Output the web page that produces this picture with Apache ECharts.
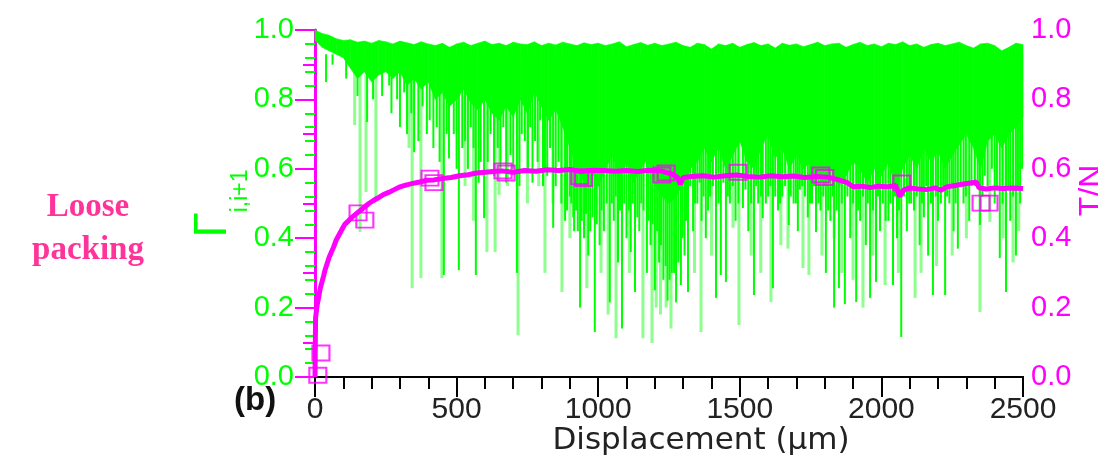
<!DOCTYPE html>
<html>
<head>
<meta charset="utf-8">
<script src="https://cdn.jsdelivr.net/npm/echarts@6/dist/echarts.min.js"></script>
<style>
html,body{margin:0;padding:0;background:#fff;}
#chart{width:1098px;height:462px;}
</style>
</head>
<body>
<div id="chart"></div>
<script>
// ---------- DATA ----------
// Gamma_{i,i+1}: dense band sampled every 25 µm (0..2500)
const bandStep = 25;
const gammaHigh = [1.0, 0.99, 0.985, 0.975, 0.97, 0.972, 0.965, 0.968, 0.962, 0.97, 0.966, 0.96, 0.968, 0.963, 0.958, 0.966, 0.96, 0.955, 0.962, 0.95,
  0.96, 0.965, 0.955, 0.962, 0.968, 0.958, 0.962, 0.955, 0.965, 0.96,
  0.958, 0.966, 0.955, 0.962, 0.957, 0.965, 0.96, 0.955, 0.963, 0.958,
  0.962, 0.955, 0.96, 0.966, 0.952, 0.958, 0.964, 0.956, 0.962, 0.955,
  0.96, 0.965, 0.955, 0.95, 0.962, 0.958, 0.945, 0.96, 0.955, 0.962,
  0.95, 0.958, 0.964, 0.955, 0.96, 0.948, 0.962, 0.956, 0.96, 0.952,
  0.958, 0.965, 0.955, 0.96, 0.962, 0.95, 0.958, 0.965, 0.955, 0.96,
  0.952, 0.962, 0.958, 0.966, 0.955, 0.96, 0.95, 0.958, 0.962, 0.955,
  0.96, 0.965, 0.955, 0.948, 0.96, 0.962, 0.955, 0.94, 0.95, 0.962,
  0.958];
const gammaLow = [0.97, 0.95, 0.94, 0.93, 0.92, 0.89, 0.86, 0.88, 0.85, 0.87, 0.88, 0.86, 0.88, 0.84, 0.86, 0.83, 0.85, 0.8, 0.82, 0.78,
  0.8, 0.83, 0.79, 0.77, 0.8, 0.76, 0.74, 0.78, 0.75, 0.8,
  0.76, 0.82, 0.78, 0.74, 0.77, 0.72, 0.66, 0.6, 0.56, 0.6,
  0.55, 0.6, 0.64, 0.58, 0.62, 0.56, 0.6, 0.63, 0.56, 0.52,
  0.5, 0.52, 0.56, 0.6, 0.62, 0.66, 0.62, 0.66, 0.6, 0.64,
  0.68, 0.62, 0.6, 0.66, 0.7, 0.63, 0.66, 0.6, 0.64, 0.6,
  0.62, 0.58, 0.55, 0.6, 0.55, 0.58, 0.62, 0.6, 0.56, 0.6,
  0.58, 0.62, 0.55, 0.6, 0.64, 0.6, 0.66, 0.62, 0.65, 0.6,
  0.64, 0.67, 0.7, 0.66, 0.6, 0.68, 0.7, 0.66, 0.7, 0.72,
  0.75];
const spikeTop = 0.93;
// dark drops [displacement µm, minimum Gamma]
const darkSpikes = [[39,0.85],[62,0.9],[110,0.86],[150,0.81],[184,0.735],[205,0.8],[237,0.81],[262,0.84],[270,0.76],[290,0.8],[300,0.72],[315,0.82],[325,0.7],[340,0.76],[350,0.648],[365,0.68],[380,0.78],[395,0.7],[405,0.74],[418,0.66],[430,0.72],[440,0.62],[455,0.294],[465,0.7],[473,0.63],[490,0.7],[500,0.6],[508,0.308],[520,0.66],[530,0.68],[540,0.6],[550,0.72],[560,0.66],[568,0.294],[578,0.56],[585,0.62],[597,0.458],[610,0.62],[620,0.7],[632,0.58],[645,0.66],[655,0.6],[665,0.72],[675,0.56],[690,0.64],[700,0.6],[713,0.30],[722,0.55],[730,0.7],[741,0.68],[752,0.6],[760,0.72],[768,0.56],[777,0.68],[786,0.62],[795,0.74],[805,0.55],[812,0.6],[820,0.58],[830,0.66],[841,0.43],[850,0.55],[860,0.62],[870,0.5],[883,0.45],[890,0.48],[900,0.52],[905,0.5],[912,0.46],[915,0.42],[922,0.48],[928,0.42],[936,0.2],[942,0.45],[950,0.4],[957,0.47],[965,0.35],[972,0.42],[980,0.46],[988,0.13],[995,0.44],[1005,0.38],[1012,0.48],[1020,0.42],[1030,0.5],[1041,0.215],[1048,0.5],[1055,0.45],[1062,0.52],[1070,0.33],[1077,0.48],[1084,0.14],[1092,0.5],[1100,0.4],[1108,0.48],[1115,0.36],[1122,0.5],[1130,0.245],[1138,0.46],[1145,0.42],[1152,0.5],[1160,0.48],[1172,0.30],[1178,0.45],[1185,0.38],[1192,0.44],[1200,0.25],[1208,0.42],[1215,0.33],[1222,0.38],[1230,0.28],[1238,0.32],[1245,0.22],[1252,0.28],[1260,0.3],[1268,0.3],[1275,0.215],[1283,0.33],[1292,0.265],[1298,0.4],[1305,0.35],[1310,0.45],[1317,0.245],[1325,0.55],[1335,0.42],[1342,0.5],[1350,0.5],[1358,0.56],[1365,0.45],[1372,0.52],[1380,0.4],[1388,0.48],[1395,0.52],[1405,0.55],[1416,0.228],[1425,0.5],[1433,0.294],[1442,0.56],[1451,0.274],[1458,0.52],[1465,0.5],[1475,0.55],[1485,0.45],[1495,0.5],[1511,0.487],[1520,0.54],[1530,0.42],[1540,0.5],[1550,0.236],[1558,0.55],[1565,0.5],[1575,0.52],[1581,0.458],[1592,0.5],[1600,0.52],[1608,0.55],[1617,0.256],[1625,0.52],[1635,0.48],[1642,0.5],[1650,0.52],[1660,0.55],[1673,0.438],[1680,0.52],[1690,0.5],[1698,0.5],[1705,0.42],[1712,0.54],[1720,0.55],[1730,0.52],[1740,0.46],[1748,0.5],[1755,0.5],[1762,0.55],[1769,0.418],[1778,0.5],[1785,0.48],[1795,0.52],[1804,0.30],[1812,0.48],[1820,0.45],[1828,0.52],[1833,0.2],[1842,0.48],[1850,0.256],[1860,0.5],[1871,0.21],[1880,0.52],[1890,0.4],[1900,0.5],[1911,0.216],[1918,0.48],[1925,0.45],[1935,0.52],[1945,0.38],[1952,0.5],[1960,0.228],[1970,0.48],[1981,0.274],[1988,0.52],[1995,0.42],[2005,0.5],[2015,0.45],[2025,0.45],[2032,0.5],[2041,0.265],[2048,0.52],[2055,0.4],[2062,0.48],[2070,0.115],[2080,0.52],[2090,0.42],[2098,0.5],[2105,0.5],[2115,0.48],[2125,0.52],[2135,0.38],[2143,0.5],[2150,0.46],[2158,0.55],[2165,0.35],[2175,0.5],[2182,0.236],[2192,0.52],[2200,0.45],[2210,0.5],[2218,0.55],[2225,0.236],[2232,0.52],[2240,0.5],[2248,0.55],[2255,0.42],[2262,0.5],[2270,0.37],[2280,0.55],[2290,0.5],[2298,0.52],[2310,0.45],[2318,0.55],[2330,0.55],[2340,0.56],[2348,0.438],[2357,0.52],[2365,0.58],[2375,0.55],[2390,0.6],[2400,0.5],[2408,0.55],[2418,0.343],[2428,0.5],[2440,0.245],[2448,0.55],[2455,0.45],[2465,0.52],[2475,0.35],[2482,0.55],[2490,0.5],[2497,0.6]];
// light (faint) drops
const lightSpikes = [[140,0.726],[159,0.418],[180,0.533],[215,0.516],[332,0.66],[343,0.256],[374,0.285],[448,0.285],[530,0.55],[560,0.45],[607,0.36],[636,0.36],[650,0.525],[680,0.55],[717,0.12],[750,0.5],[790,0.55],[812,0.30],[840,0.5],[872,0.245],[900,0.4],[960,0.256],[1010,0.3],[1035,0.18],[1063,0.112],[1110,0.3],[1158,0.112],[1190,0.098],[1205,0.2],[1220,0.18],[1240,0.2],[1257,0.14],[1340,0.3],[1363,0.13],[1400,0.35],[1476,0.43],[1497,0.15],[1540,0.35],[1574,0.30],[1610,0.216],[1645,0.38],[1670,0.37],[1723,0.314],[1744,0.294],[1790,0.35],[1833,0.4],[1860,0.3],[1900,0.28],[1935,0.2],[1970,0.35],[2013,0.265],[2060,0.3],[2119,0.228],[2140,0.3],[2195,0.32],[2250,0.35],[2300,0.4],[2348,0.187],[2383,0.447],[2430,0.4],[2465,0.33],[2485,0.42]];

// T/N curve
const tnX = [0, 2, 5, 8, 12, 16, 20, 25, 30, 36, 42, 50, 58, 66, 75, 85, 95, 105, 118, 130, 145, 160, 175, 190, 205, 220, 240, 260, 280, 300, 320, 345, 370, 395, 420, 450, 480, 510, 540, 570, 600, 630, 660, 700, 740, 780, 820, 860, 900, 940, 980, 1020, 1060, 1100, 1140, 1180, 1220, 1260, 1280, 1290, 1300, 1330, 1370, 1410, 1450, 1490, 1530, 1570, 1610, 1650, 1690, 1730, 1770, 1810, 1840, 1860, 1880, 1900, 1930, 1960, 1990, 2020, 2050, 2065, 2080, 2100, 2130, 2160, 2190, 2210, 2230, 2260, 2290, 2320, 2335, 2345, 2370, 2400, 2430, 2460, 2500];
const tnY = [0.0, 0.17, 0.19, 0.21, 0.225, 0.245, 0.26, 0.275, 0.29, 0.31, 0.325, 0.345, 0.36, 0.375, 0.395, 0.41, 0.425, 0.44, 0.45, 0.46, 0.47, 0.48, 0.49, 0.5, 0.508, 0.515, 0.525, 0.532, 0.54, 0.548, 0.553, 0.558, 0.562, 0.567, 0.568, 0.572, 0.575, 0.58, 0.583, 0.588, 0.59, 0.592, 0.594, 0.59, 0.595, 0.593, 0.597, 0.595, 0.598, 0.592, 0.596, 0.595, 0.593, 0.595, 0.592, 0.596, 0.594, 0.585, 0.575, 0.555, 0.575, 0.578, 0.58, 0.576, 0.58, 0.582, 0.578, 0.576, 0.58, 0.577, 0.579, 0.575, 0.578, 0.576, 0.57, 0.565, 0.56, 0.548, 0.55, 0.546, 0.55, 0.548, 0.552, 0.52, 0.54, 0.545, 0.542, 0.54, 0.545, 0.538, 0.548, 0.552, 0.556, 0.56, 0.562, 0.545, 0.542, 0.545, 0.543, 0.545, 0.543];
// hollow square markers on T/N
const markX = [10, 21, 152, 176, 406, 420, 664, 675, 935, 948, 1225, 1240, 1494, 1786, 1800, 2072, 2352, 2380];
const markY = [0.005, 0.069, 0.473, 0.452, 0.573, 0.56, 0.594, 0.588, 0.577, 0.572, 0.582, 0.588, 0.59, 0.582, 0.575, 0.559, 0.501, 0.501];

const xTicks = {min: 0, max: 2500, interval: 500};
const yTicks = {min: 0, max: 1, interval: 0.2};

// ---------- CHART ----------
const GREEN = '#00ff00', LIGHT = '#8cff8c', MAG = '#ff00ff';
const bandData = [];
for (let i = 0; i < gammaHigh.length - 1; i++) {
  bandData.push([i * bandStep, gammaLow[i], gammaHigh[i], (i + 1) * bandStep, gammaLow[i + 1], gammaHigh[i + 1]]);
}
function spikeRender(color, width) {
  return function (params, api) {
    const p1 = api.coord([api.value(0), spikeTop]);
    const p2 = api.coord([api.value(0), api.value(1)]);
    return {type: 'line', shape: {x1: p1[0], y1: p1[1], x2: p2[0], y2: p2[1]},
      style: {stroke: color, lineWidth: width}};
  };
}
const chart = echarts.init(document.getElementById('chart'), null, {renderer: 'canvas'});
const font = 'Liberation Sans, Arial, sans-serif';
chart.setOption({
  animation: false,
  backgroundColor: '#ffffff',
  grid: {left: 315, right: 75, top: 30, bottom: 85, containLabel: false, outerBoundsMode: 'none'},
  xAxis: [{
    type: 'value', position: 'bottom', min: xTicks.min, max: xTicks.max, interval: xTicks.interval,
    axisLine: {show: true, lineStyle: {color: '#000', width: 2}},
    axisTick: {show: true, length: 20, lineStyle: {color: '#000', width: 2}},
    minorTick: {show: true, splitNumber: 5, length: 10, lineStyle: {color: '#000', width: 2}},
    splitLine: {show: false},
    axisLabel: {color: '#222', fontSize: 30, fontFamily: font, margin: 18, formatter: v => String(v)},
    name: 'Displacement (μm)', nameLocation: 'middle', nameGap: 48, nameMoveOverlap: false,
    nameTextStyle: {color: '#222', fontSize: 31, fontFamily: 'DejaVu Sans, sans-serif', padding: [0, 0, 0, 64]}
  }, {
    type: 'value', position: 'top', min: xTicks.min, max: xTicks.max, interval: xTicks.interval,
    axisLine: {show: true, lineStyle: {color: '#000', width: 2}},
    axisTick: {show: true, inside: true, length: 18, lineStyle: {color: '#000', width: 2}},
    minorTick: {show: true, splitNumber: 5, length: 12, lineStyle: {color: '#000', width: 2}},
    splitLine: {show: false}, axisLabel: {show: false}
  }],
  yAxis: [{
    type: 'value', position: 'left', min: yTicks.min, max: yTicks.max, interval: yTicks.interval,
    axisLine: {show: true, lineStyle: {color: GREEN, width: 2}},
    axisTick: {show: true, length: 18, lineStyle: {color: GREEN, width: 2}},
    minorTick: {show: true, splitNumber: 5, length: 10, lineStyle: {color: GREEN, width: 2}},
    splitLine: {show: false},
    axisLabel: {color: GREEN, fontSize: 29, fontFamily: font, margin: 21, formatter: v => v.toFixed(1)},
    name: '{g|Γ}{s|i,i+1}', nameLocation: 'middle', nameGap: 79, nameRotate: 90, nameMoveOverlap: false,
    nameTextStyle: {color: GREEN, fontSize: 44, rich: {
      g: {fontSize: 46, fontFamily: font, color: GREEN},
      s: {fontSize: 23, fontFamily: font, color: GREEN, verticalAlign: 'bottom', padding: [0, 0, -16, 0]}
    }}
  }, {
    type: 'value', position: 'right', min: yTicks.min, max: yTicks.max, interval: yTicks.interval,
    axisLine: {show: true, lineStyle: {color: MAG, width: 3}},
    axisTick: {show: true, inside: true, length: 20, lineStyle: {color: MAG, width: 2}},
    minorTick: {show: true, splitNumber: 2, length: 12, lineStyle: {color: MAG, width: 2}},
    splitLine: {show: false},
    axisLabel: {color: MAG, fontSize: 29, fontFamily: font, margin: 8, formatter: v => v.toFixed(1)},
    name: 'T/N', nameLocation: 'middle', nameGap: 53, nameRotate: 90, nameMoveOverlap: false,
    nameTextStyle: {color: MAG, fontSize: 32, fontFamily: font, padding: [0, 0, 0, 26]}
  }],
  graphic: [
    {type: 'text', left: 234, top: 384, style: {text: '(b)', font: 'bold 33px Liberation Sans, Arial, sans-serif', fill: '#111'}},
    {type: 'text', x: 88, y: 207, style: {text: 'Loose', font: 'bold 33px Liberation Serif, Times New Roman, serif', fill: '#ff3399', textAlign: 'center', textVerticalAlign: 'middle'}},
    {type: 'text', x: 88, y: 250, style: {text: 'packing', font: 'bold 33px Liberation Serif, Times New Roman, serif', fill: '#ff3399', textAlign: 'center', textVerticalAlign: 'middle'}}
  ],
  series: [{
    type: 'custom', name: 'light drops', xAxisIndex: 0, yAxisIndex: 0, z: 1,
    data: lightSpikes, encode: {x: 0, y: 1}, renderItem: spikeRender(LIGHT, 3)
  }, {
    type: 'custom', name: 'band', xAxisIndex: 0, yAxisIndex: 0, z: 2,
    data: bandData, encode: {x: [0, 3], y: [1, 2, 4, 5]},
    renderItem: function (params, api) {
      const a = api.coord([api.value(0), api.value(2)]);
      const b = api.coord([api.value(3), api.value(5)]);
      const c = api.coord([api.value(3), api.value(4)]);
      const d = api.coord([api.value(0), api.value(1)]);
      return {type: 'polygon', shape: {points: [a, b, c, d]}, style: {fill: GREEN, stroke: GREEN, lineWidth: 0.6}};
    }
  }, {
    type: 'custom', name: 'dark drops', xAxisIndex: 0, yAxisIndex: 0, z: 3,
    data: darkSpikes, encode: {x: 0, y: 1}, renderItem: spikeRender(GREEN, 2)
  }, {
    type: 'line', name: 'T/N', xAxisIndex: 0, yAxisIndex: 1, z: 4,
    data: tnX.map((x, i) => [x, tnY[i]]), showSymbol: false, symbol: 'none',
    lineStyle: {color: MAG, width: 5}
  }, {
    type: 'scatter', name: 'markers', xAxisIndex: 0, yAxisIndex: 1, z: 5,
    data: markX.map((x, i) => [x, markY[i]]), symbol: 'rect', symbolSize: [17, 15],
    itemStyle: {color: 'rgba(0,0,0,0)', borderColor: MAG, borderWidth: 2}
  }]
});
</script>
</body>
</html>
